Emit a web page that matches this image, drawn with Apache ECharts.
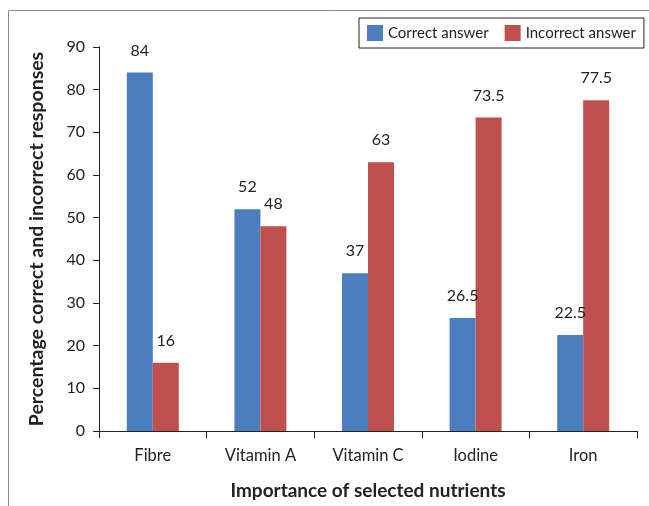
<!DOCTYPE html>
<html>
<head>
<meta charset="utf-8">
<script src="https://cdn.jsdelivr.net/npm/echarts@6/dist/echarts.min.js"></script>
<style>
  html, body { margin: 0; padding: 0; background: #fff; }
  #chart { width: 649px; height: 506px; }
</style>
</head>
<body>
<div id="chart"></div>
<script>
// nutrients on the x axis
const categories = ['Fibre', 'Vitamin A', 'Vitamin C', 'Iodine', 'Iron']
const correctValues = [84, 52, 37, 26.5, 22.5]
const incorrectValues = [16, 48, 63, 73.5, 77.5]
const seriesNames = ['Correct answer', 'Incorrect answer']

const textColor = '#222'
const fontFamily = 'Lato, "Noto Sans", sans-serif'

const chart = echarts.init(document.getElementById('chart'))

const labelStyle = {
  show: true,
  position: 'top',
  distance: 14,
  color: textColor,
  fontSize: 16,
  fontFamily: fontFamily
}

const option = {
  animation: false,
  textStyle: { fontFamily: fontFamily, color: textColor },
  graphic: [{
    type: 'rect',
    shape: { x: 8.5, y: 10.5, width: 700, height: 600 },
    style: { fill: 'none', stroke: '#8c8c8c', lineWidth: 1 },
    silent: true
  }],
  legend: {
    data: seriesNames,
    left: 359,
    top: 18,
    padding: [7, 8, 7, 8],
    itemGap: 16,
    itemWidth: 16,
    itemHeight: 16,
    borderColor: '#222',
    borderWidth: 1,
    icon: 'rect',
    textStyle: { fontSize: 15, color: textColor, fontFamily: fontFamily }
  },
  grid: {
    left: 99,
    right: 12,
    top: 47,
    bottom: 75
  },
  xAxis: {
    type: 'category',
    data: categories,
    name: 'Importance of selected nutrients',
    nameLocation: 'middle',
    nameGap: 50,
    nameTextStyle: { fontSize: 19, fontWeight: 'bold', color: textColor },
    axisLine: { lineStyle: { color: '#222', width: 1 } },
    axisTick: { show: true, length: 7, lineStyle: { color: '#222' } },
    axisLabel: { fontSize: 16.5, color: textColor, margin: 16 }
  },
  yAxis: {
    type: 'value',
    min: 0,
    max: 90,
    interval: 10,
    name: 'Percentage correct and incorrect responses',
    nameLocation: 'middle',
    nameGap: 52,
    nameTextStyle: { fontSize: 19.5, fontWeight: 'bold', color: textColor },
    axisLine: { show: true, lineStyle: { color: '#222', width: 1 } },
    axisTick: { show: true, length: 6, lineStyle: { color: '#222' } },
    axisLabel: { fontSize: 16, color: textColor, margin: 14 },
    splitLine: { show: false }
  },
  series: [
    {
      name: seriesNames[0],
      type: 'bar',
      data: correctValues,
      barWidth: 26,
      barGap: '0%',
      itemStyle: { color: '#4a7ebf' },
      label: labelStyle
    },
    {
      name: seriesNames[1],
      type: 'bar',
      data: incorrectValues,
      barWidth: 26,
      itemStyle: { color: '#c0504d' },
      label: labelStyle
    }
  ]
}

chart.setOption(option)
</script>
</body>
</html>
